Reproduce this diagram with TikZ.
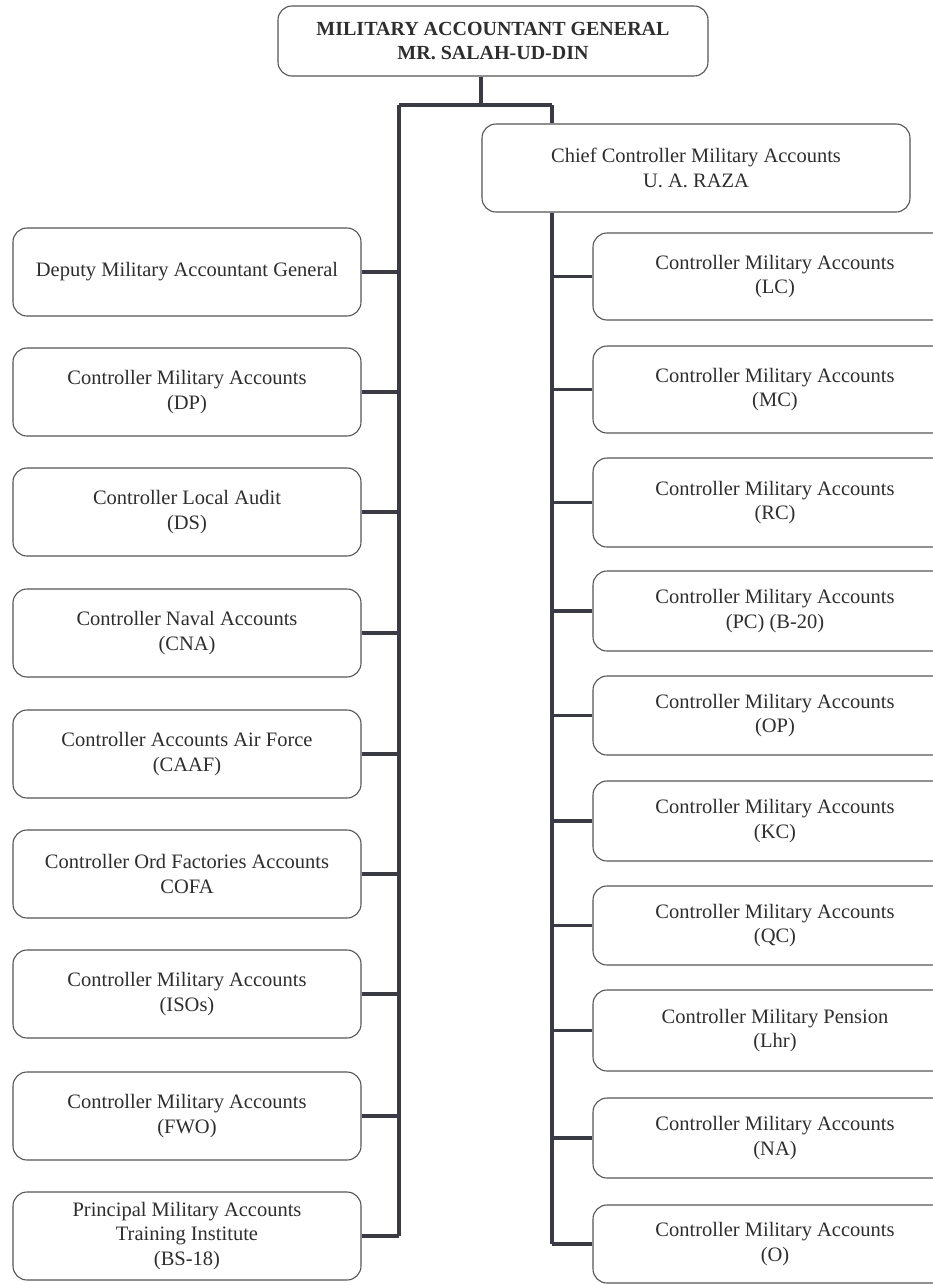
\documentclass[tikz,border=0pt]{standalone}
\usepackage{fontspec}
\setmainfont{Liberation Serif}
\definecolor{linec}{HTML}{3A3A44}
\definecolor{boxc}{HTML}{555555}
\definecolor{txtc}{HTML}{2E2E2E}
\tikzset{
  orgbox/.style={draw=boxc, line width=1.1pt, rounded corners=14pt, fill=white,
    align=center, inner sep=0pt, text=txtc,
    font=\fontsize{20.5}{24.5}\selectfont},
  lbox/.style={orgbox, minimum width=348pt, minimum height=88pt},
  rbox/.style={orgbox, minimum width=364pt},
  conn/.style={draw=linec, line width=3.6pt},
}
\begin{document}
\begin{tikzpicture}[x=1pt,y=-1pt]
\useasboundingbox (0,0) rectangle (933,1285);
\clip (0,0) rectangle (933,1285);
\fill[white] (0,0) rectangle (933,1285);

% top
\node[orgbox, minimum width=430pt, minimum height=70pt, font=\bfseries\fontsize{20}{24}\selectfont] (mag) at (493,41)
  {MILITARY ACCOUNTANT GENERAL\\MR. SALAH-UD-DIN};
\node[orgbox, minimum width=428pt, minimum height=88pt] (ccma) at (696,168)
  {Chief Controller Military Accounts\\U. A. RAZA};

% left column
\node[lbox] (l1) at (187,272) {Deputy Military Accountant General};
\node[lbox] (l2) at (187,392) {Controller Military Accounts\\(DP)};
\node[lbox] (l3) at (187,512) {Controller Local Audit\\(DS)};
\node[lbox] (l4) at (187,633) {Controller Naval Accounts\\(CNA)};
\node[lbox] (l5) at (187,754) {Controller Accounts Air Force\\(CAAF)};
\node[lbox] (l6) at (187,874) {Controller Ord Factories Accounts\\COFA};
\node[lbox] (l7) at (187,994) {Controller Military Accounts\\(ISOs)};
\node[lbox] (l8) at (187,1116) {Controller Military Accounts\\(FWO)};
\node[lbox] (l9) at (187,1236) {Principal Military Accounts\\Training Institute\\(BS-18)};

% right column
\node[rbox, minimum height=87pt] (r1) at (775,276.5) {Controller Military Accounts\\(LC)};
\node[rbox, minimum height=87pt] (r2) at (775,389.5) {Controller Military Accounts\\(MC)};
\node[rbox, minimum height=89pt] (r3) at (775,502.5) {Controller Military Accounts\\(RC)};
\node[rbox, minimum height=80pt] (r4) at (775,611) {Controller Military Accounts\\(PC) (B-20)};
\node[rbox, minimum height=79pt] (r5) at (775,715.5) {Controller Military Accounts\\(OP)};
\node[rbox, minimum height=80pt] (r6) at (775,821) {Controller Military Accounts\\(KC)};
\node[rbox, minimum height=79pt] (r7) at (775,925.5) {Controller Military Accounts\\(QC)};
\node[rbox, minimum height=81pt] (r8) at (775,1030.5) {Controller Military Pension\\(Lhr)};
\node[rbox, minimum height=80pt] (r9) at (775,1138) {Controller Military Accounts\\(NA)};
\node[rbox, minimum height=78pt] (r10) at (775,1244) {Controller Military Accounts\\(O)};

% trunk coordinates
\coordinate (stem) at (481,105);
\coordinate (lbar) at (399,105);
\coordinate (rbar) at (552,105);

\draw[conn] (mag.south -| stem) -- (stem);
\draw[conn] (lbar) -- (rbar);
\draw[conn] (rbar) -- (ccma.north -| rbar);
\draw[conn] (lbar) -- (l9.east -| lbar);
\draw[conn] (ccma.south -| rbar) -- (r10.west -| rbar);

\foreach \n in {l1,l2,l3,l4,l5,l6,l7,l8,l9}
  \draw[conn] (\n.east) -- (\n.east -| lbar);
\foreach \n in {r1,r2,r3,r4,r5,r6,r7,r8,r9,r10}
  \draw[conn] (\n.west) -- (\n.west -| rbar);
\end{tikzpicture}
\end{document}
